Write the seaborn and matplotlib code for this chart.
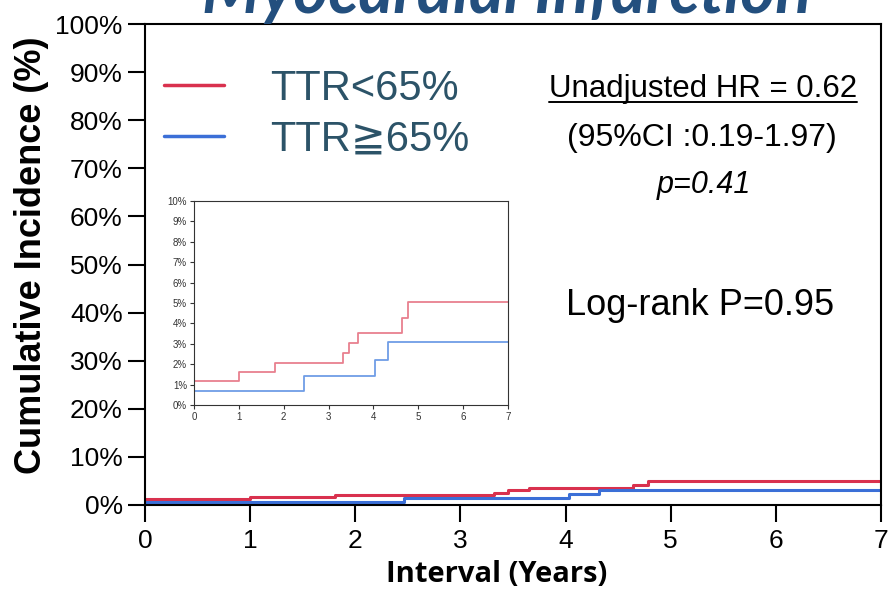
import numpy as np
import pandas as pd
import matplotlib
matplotlib.use("Agg")
import matplotlib.pyplot as plt
from matplotlib.lines import Line2D
from matplotlib.ticker import FuncFormatter
import seaborn as sns

# ---- data (cumulative incidence, %) ----
red_time = [0.0, 1.0, 1.81, 3.32, 3.45, 3.65, 4.64, 4.78, 7.0]
red_value = [1.2, 1.6, 2.05, 2.55, 3.05, 3.55, 4.25, 5.05, 5.05]
blue_time = [0.0, 0.0, 2.46, 4.03, 4.32, 7.0]
blue_value = [0.0, 0.67, 1.4, 2.2, 3.1, 3.1]
group_labels = ["TTR<65%", "TTR\u226765%"]
main_yticks = list(range(0, 101, 10))
inset_yticks = list(range(0, 11, 1))
xticks = list(range(0, 8))

title_text = "Myocardial Infarction"
ylabel_text = "Cumulative Incidence (%)"
xlabel_text = "Interval (Years)"
hr_text = "Unadjusted HR = 0.62"
ci_text = "(95%CI :0.19-1.97)"
p_text = "p=0.41"
logrank_text = "Log-rank P=0.95"

df = pd.concat([
    pd.DataFrame({"time": red_time, "value": red_value, "group": group_labels[0]}),
    pd.DataFrame({"time": blue_time, "value": blue_value, "group": group_labels[1]}),
], ignore_index=True)

sns.set_style("ticks")
plt.rcParams["font.family"] = ["Liberation Sans", "DejaVu Sans"]

W, H = 889, 590
fig = plt.figure(figsize=(W / 100, H / 100), dpi=100)

def fx(px):
    return px / W

def fy(py):
    return 1 - py / H

main_colors = {group_labels[0]: "#D9314E", group_labels[1]: "#3B6FD7"}
inset_colors = {group_labels[0]: "#E8808F", group_labels[1]: "#6F9DE6"}

# ---- main axes ----
ax = fig.add_axes([fx(145), fy(505), fx(881) - fx(145), fy(24) - fy(505)])
sns.lineplot(data=df, x="time", y="value", hue="group", palette=main_colors,
             estimator=None, sort=False, drawstyle="steps-post", linewidth=2.2,
             ax=ax, legend=False)
ax.set_xlim(0, 7)
ax.set_ylim(0, 100)
ax.set_xticks(xticks)
ax.set_yticks(main_yticks)
ax.yaxis.set_major_formatter(FuncFormatter(lambda v, p: f"{int(v)}%"))
ax.set_xlabel("")
ax.set_ylabel("")
for s in ax.spines.values():
    s.set_visible(True)
    s.set_linewidth(1.5)
    s.set_color("black")
ax.tick_params(axis="both", direction="out", length=12, width=1.5, labelsize=19,
               colors="black")
ax.tick_params(axis="y", pad=4)
ax.tick_params(axis="x", pad=5)

# legend
handles = [Line2D([], [], color=main_colors[g], lw=2.5) for g in group_labels]
leg = ax.legend(handles, group_labels, loc="upper left",
                bbox_to_anchor=(fx(164), fy(69)), bbox_transform=fig.transFigure,
                frameon=False, fontsize=30, handlelength=1.45, handletextpad=1.1,
                labelspacing=0.25, borderpad=0, borderaxespad=0,
                labelcolor="#2C5368")

# ---- inset axes ----
ins = fig.add_axes([fx(194), fy(405), fx(508) - fx(194), fy(201) - fy(405)])
sns.lineplot(data=df, x="time", y="value", hue="group", palette=inset_colors,
             estimator=None, sort=False, drawstyle="steps-post", linewidth=1.3,
             ax=ins, legend=False)
ins.set_xlim(0, 7)
ins.set_ylim(0, 10)
ins.set_xticks(xticks)
ins.set_yticks(inset_yticks)
ins.yaxis.set_major_formatter(FuncFormatter(lambda v, p: f"{int(v)}%"))
ins.set_xlabel("")
ins.set_ylabel("")
for s in ins.spines.values():
    s.set_visible(True)
    s.set_linewidth(0.8)
    s.set_color("#333333")
ins.tick_params(axis="both", direction="out", length=3, width=0.8, labelsize=7,
                colors="#333333", pad=2)
ins.set_facecolor("white")

# ---- texts ----
fig.text(fx(507), fy(13), title_text, ha="center", va="baseline", fontsize=48,
         fontweight="bold", fontstyle="italic", family=["Lato", "DejaVu Sans"],
         color="#234F7E")
fig.text(fx(32), fy(255), ylabel_text, ha="center", va="center", rotation=90,
         fontsize=26, fontweight="bold", color="black")
fig.text(fx(497), fy(582), xlabel_text, ha="center", va="baseline", fontsize=21,
         fontweight="bold", family=["Open Sans", "DejaVu Sans"], color="black")

t_hr = fig.text(fx(703), fy(96.5), hr_text, ha="center", va="baseline",
                fontsize=22.5, color="black")
fig.text(fx(702), fy(146), ci_text, ha="center", va="baseline", fontsize=23,
         color="black")
fig.text(fx(704), fy(192.5), p_text, ha="center", va="baseline", fontsize=22,
         fontstyle="italic", color="black")
fig.text(fx(700), fy(315), logrank_text, ha="center", va="baseline", fontsize=26,
         color="black")

# underline for HR text
fig.canvas.draw()
bb = t_hr.get_window_extent()
fig.add_artist(Line2D([bb.x0 / W, bb.x1 / W], [fy(102), fy(102)],
                      transform=fig.transFigure, color="black", lw=1.4))

fig.savefig("out.png", dpi=100)
